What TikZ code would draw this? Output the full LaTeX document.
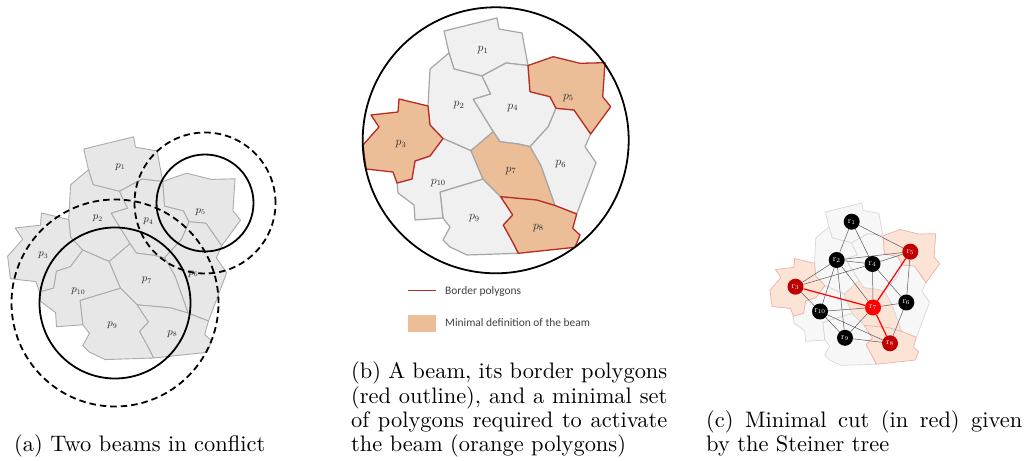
\documentclass[tikz,border=0pt]{standalone}
\usepackage{fontspec}
\newfontfamily\legendfont{Carlito}

% colours
\definecolor{tileAfill}{RGB}{231,231,231}
\definecolor{tileAline}{RGB}{171,171,171}
\definecolor{tileBfill}{RGB}{240,240,240}
\definecolor{tileBline}{RGB}{166,166,166}
\definecolor{beamorange}{RGB}{236,190,152}
\definecolor{borderred}{RGB}{184,44,36}
\definecolor{tileCfill}{RGB}{247,247,247}
\definecolor{tileCline}{RGB}{216,216,216}
\definecolor{paleorange}{RGB}{251,228,213}
\definecolor{palered}{RGB}{242,176,168}
\definecolor{nodedark}{RGB}{192,0,0}
\definecolor{nodebright}{RGB}{255,0,0}
\definecolor{edgegray}{RGB}{90,90,90}
\definecolor{legendgray}{RGB}{64,64,64}

% drawing layers: tiles below connectors, connectors below graph nodes
\pgfdeclarelayer{tiles}
\pgfdeclarelayer{graphedges}
\pgfsetlayers{tiles,graphedges,main}

% shared vertices of the polygon tiling
\newcommand\tilepoints{%
  \coordinate (A) at (444,31);      \coordinate (B) at (497,18);
  \coordinate (C) at (499,29);      \coordinate (D) at (522,33);
  \coordinate (E) at (528,65.5);    \coordinate (F) at (506,63);
  \coordinate (G) at (482,76);      \coordinate (H) at (454,69);
  \coordinate (I) at (449,53);      \coordinate (J) at (430,69);
  \coordinate (K) at (428,106);     \coordinate (L) at (430,125);
  \coordinate (M) at (443,138.5);   \coordinate (N) at (471,150.7);
  \coordinate (O) at (493.3,131.7); \coordinate (P) at (473.3,99.3);
  \coordinate (Q) at (490.7,94);    \coordinate (R) at (530,91.7);
  \coordinate (S) at (550,96.7);    \coordinate (T) at (556,108.3);
  \coordinate (U) at (548.3,126.7); \coordinate (V) at (530,146.7);
  \coordinate (W) at (518.3,144);   \coordinate (X) at (500,141.7);
  \coordinate (Y) at (590.7,134);   \coordinate (Z) at (574,110);
  \coordinate (AA) at (576.7,214);  \coordinate (BB) at (555,205.5);
  \coordinate (CC) at (541,166);    \coordinate (DD) at (536.7,200);
  \coordinate (EE) at (500.7,196.7);\coordinate (FF) at (483,179);
  \coordinate (GG) at (513.3,243.3);\coordinate (HH) at (503.3,225);
  \coordinate (II) at (512.7,215);  \coordinate (JJ) at (440,192);
  \coordinate (KK) at (518.3,253.3);\coordinate (LL) at (443,218);
  \coordinate (MM) at (430,156);    \coordinate (NN) at (397,183);
  \coordinate (OO) at (412,179);    \coordinate (PP) at (415,161);
}
\newcommand\tileone{(A)--(B)--(C)--(D)--(E)--(F)--(G)--(H)--(I)--cycle}
\newcommand\tiletwo{(I)--(H)--(G)--(Q)--(P)--(O)--(N)--(M)--(L)--(K)--(J)--cycle}
\newcommand\tilethree{(371,115)--(398,112)--(399,99)--(K)--(L)--(M)--(MM)--(PP)--(OO)--(NN)--(393,172)--(366,169)--(363,145)--(379,127)--cycle}
\newcommand\tilefour{(G)--(F)--(E)--(R)--(S)--(T)--(U)--(V)--(W)--(X)--(O)--(P)--(Q)--cycle}
\newcommand\tilefive{(E)--(553.3,56.7)--(580,63.3)--(605,62.7)--(602.7,96.7)--(610.7,106.7)--(Y)--(Z)--(T)--(S)--(R)--cycle}
\newcommand\tilesix{(T)--(Z)--(Y)--(585,146.7)--(596,162.7)--(AA)--(BB)--(CC)--(V)--(U)--cycle}
\newcommand\tileseven{(O)--(X)--(W)--(V)--(CC)--(BB)--(DD)--(EE)--(FF)--(N)--cycle}
\newcommand\tileeight{(EE)--(DD)--(BB)--(AA)--(572.7,228.3)--(580,235)--(575,247.3)--(KK)--(GG)--(HH)--(II)--cycle}
\newcommand\tilenine{(JJ)--(FF)--(EE)--(II)--(HH)--(GG)--(KK)--(467,255)--(450,247)--(443,240)--(450,227)--(LL)--cycle}
\newcommand\tileten{(M)--(N)--(FF)--(JJ)--(LL)--(415,220)--(414,205)--(398,193)--(NN)--(OO)--(PP)--(MM)--cycle}

% polygon names p_1 ... p_10, placed as named nodes (#1 name prefix, #2 label style)
\newcommand\tilelabels[2]{%
  \node[#2] (#1p1)  at (483,50)      {$p_1$};
  \node[#2] (#1p2)  at (459,105)     {$p_2$};
  \node[#2] (#1p3)  at (401,144)     {$p_3$};
  \node[#2] (#1p4)  at (512.7,107.7) {$p_4$};
  \node[#2] (#1p5)  at (568.3,97.7)  {$p_5$};
  \node[#2] (#1p6)  at (560.7,164)   {$p_6$};
  \node[#2] (#1p7)  at (511,170.7)   {$p_7$};
  \node[#2] (#1p8)  at (538.3,227.7) {$p_8$};
  \node[#2] (#1p9)  at (474.3,218.3) {$p_9$};
  \node[#2] (#1p10) at (438.3,182.7) {$p_{10}$};
}

\newcommand\capfont{\fontsize{10}{10.8}\selectfont}

\begin{document}
\begin{tikzpicture}[x=1bp,y=-1bp,
  tileA/.style={fill=tileAfill,draw=tileAline,line width=0.9bp,line join=round},
  tileB/.style={fill=tileBfill,draw=tileBline,line width=1.2bp,line join=round},
  orangeB/.style={fill=beamorange,draw=tileBline,line width=1.2bp,line join=round},
  borderB/.style={fill=beamorange,draw=borderred,line width=1.3bp,line join=round},
  tileC/.style={fill=tileCfill,draw=tileCline,line width=0.7bp,line join=round},
  orangeC/.style={fill=paleorange,draw=tileCline,line width=0.7bp,line join=round},
  borderC/.style={fill=paleorange,draw=palered,line width=0.7bp,line join=round},
  plabelA/.style={inner sep=0,text=black!85,font=\fontsize{10.5}{12}\selectfont},
  plabelB/.style={inner sep=0,text=black!85,font=\fontsize{11.5}{13}\selectfont},
  beamring/.style={circle,draw=black,line width=1.8bp,inner sep=0,fill=none},
  dashedring/.style={beamring,dash pattern=on 6.5bp off 4bp},
  gnode/.style={circle,minimum size=16bp,inner sep=0,fill=black,text=white,
    font=\fontsize{8.5}{9}\selectfont},
  rednode/.style={gnode,fill=nodedark},
  hotnode/.style={gnode,fill=nodebright},
  gedge/.style={draw=edgegray,line width=0.5bp},
  cutedge/.style={draw=nodebright,line width=1.2bp},
  caption/.style={anchor=base west,inner sep=0},
  legendtext/.style={anchor=base west,inner sep=0,text=legendgray,
    font=\legendfont\fontsize{11.5}{13}\selectfont}]
\useasboundingbox (0,0) rectangle (1029,461);

% ---------- (a) two beams in conflict ----------
\begin{scope}[shift={(-333.6,119.9)},scale=0.94]
  \tilepoints
  \foreach \t in {\tileone,\tiletwo,\tilethree,\tilefour,\tilefive,
                  \tilesix,\tileseven,\tileeight,\tilenine,\tileten}
    {\path[tileA] \t;}
  \tilelabels{a}{plabelA}
\end{scope}
\node[beamring,minimum size=151bp]   (abig)      at (115,303) {};
\node[dashedring,minimum size=207bp] (abigout)   at (115,303) {};
\node[beamring,minimum size=97bp]    (asmall)    at (205,203) {};
\node[dashedring,minimum size=141bp] (asmallout) at (205,203) {};

% ---------- (b) beam and its border polygons ----------
\begin{scope}
  \tilepoints
  \foreach \t in {\tileone,\tiletwo,\tilefour,\tilesix,\tilenine,\tileten}
    {\path[tileB] \t;}
  \path[orangeB] \tileseven;
  \path[borderB] \tilethree;
  \path[borderB] \tilefive;
  \path[borderB] \tileeight;
  \tilelabels{b}{plabelB}
\end{scope}
\node[beamring,minimum size=266bp] (bbeam) at (495.7,140.3) {};

% legend
\coordinate (legA) at (408,290.7);
\coordinate (legB) at (436,290.7);
\draw[draw=borderred,line width=1.6bp] (legA) -- (legB);
\node[fill=beamorange,minimum width=28bp,minimum height=17bp,inner sep=0] (legsw) at (422,323.5) {};
\node[legendtext] (legt1) at (445,294.5) {Border polygons};
\node[legendtext] (legt2) at (445,327) {Minimal definition of the beam};

% ---------- (c) graph and minimal cut ----------
\begin{pgfonlayer}{tiles}
\begin{scope}[shift={(521.3,190.7)},scale=0.685]
  \tilepoints
  \foreach \t in {\tileone,\tiletwo,\tilefour,\tilesix,\tilenine,\tileten}
    {\path[tileC] \t;}
  \path[orangeC] \tileseven;
  \path[borderC] \tilethree;
  \path[borderC] \tilefive;
  \path[borderC] \tileeight;
\end{scope}
\end{pgfonlayer}

\node[gnode]    (r1)  at (851.7,221.7) {$\mathrm{r}_{1}$};
\node[gnode]    (r2)  at (836.7,260)   {$\mathrm{r}_{2}$};
\node[rednode]  (r3)  at (795.5,286.7) {$\mathrm{r}_{3}$};
\node[gnode]    (r4)  at (872.5,264)   {$\mathrm{r}_{4}$};
\node[rednode]  (r5)  at (910.3,251.7) {$\mathrm{r}_{5}$};
\node[gnode]    (r6)  at (906.3,302.5) {$\mathrm{r}_{6}$};
\node[hotnode]  (r7)  at (873,307.5)   {$\mathrm{r}_{7}$};
\node[rednode]  (r8)  at (890,343.3)   {$\mathrm{r}_{8}$};
\node[gnode]    (r9)  at (845,337.8)   {$\mathrm{r}_{9}$};
\node[gnode]    (r10) at (820,311.5)   {$\mathrm{r}_{10}$};

\begin{pgfonlayer}{graphedges}
\foreach \u/\v in {r1/r2,r1/r4,r1/r5,r2/r4,r2/r5,r2/r3,r2/r10,r2/r9,r2/r7,
                   r4/r5,r4/r3,r4/r7,r4/r6,r5/r6,r3/r10,r10/r7,r10/r9,r10/r8,
                   r7/r6,r7/r9,r6/r8,r9/r8}
  {\draw[gedge] (\u) -- (\v);}
\draw[cutedge] (r3) -- (r7);
\draw[cutedge] (r5) -- (r7);
\draw[cutedge] (r7) -- (r8);
\end{pgfonlayer}

% ---------- captions ----------
\node[caption] (capa) at (14,451.9)
  {\scalebox{2.25}{\capfont (a) Two beams in conflict}};
\node[caption] (capb) at (351,379)
  {\scalebox{2.25}{\parbox[t]{141pt}{\capfont
   (b) A beam, its border polygons\linebreak
   (red outline), and a minimal set\linebreak
   of polygons required to activate\linebreak
   the beam (orange polygons)}}};
\node[caption] (capc) at (706,427.6)
  {\scalebox{2.25}{\parbox[t]{141pt}{\capfont
   (c) Minimal cut (in red) given\linebreak
   by the Steiner tree}}};
\end{tikzpicture}
\end{document}
